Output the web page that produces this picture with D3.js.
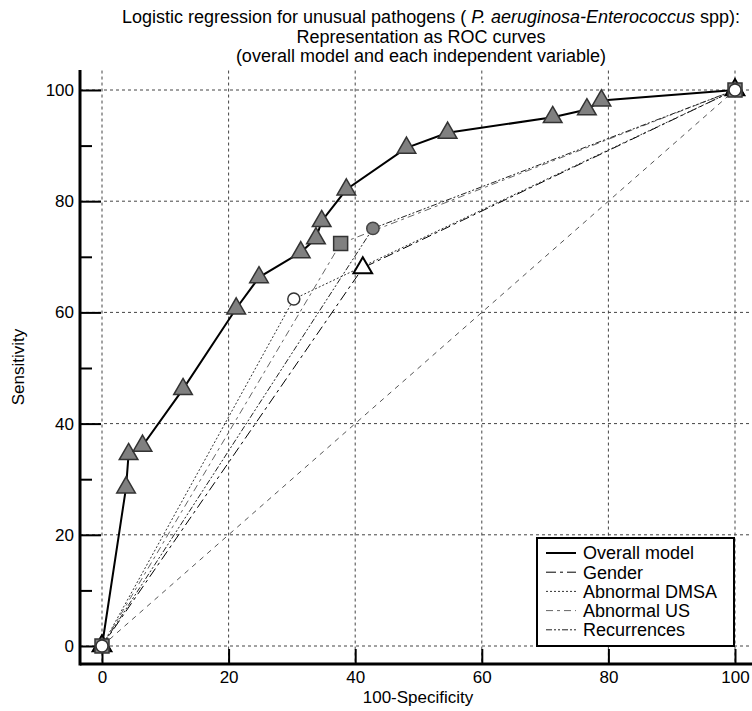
<!DOCTYPE html>
<html>
<head>
<meta charset="utf-8">
<script src="https://cdn.jsdelivr.net/npm/d3@7"></script>
<style>
  body { margin: 0; background: #fff; }
  svg { display: block; font-family: "Liberation Sans", Arial, sans-serif; }
</style>
</head>
<body>
<div id="chart"></div>
<script>
// overall model ROC points (100-specificity, sensitivity)
const overallX = [0, 3.8, 4.2, 6.4, 12.8, 21.2, 24.8, 31.4, 33.8, 34.7, 38.6, 48.1, 54.6, 71.2, 76.6, 78.9, 100];
const overallY = [0, 28.5, 34.5, 36.0, 46.2, 60.7, 66.3, 70.8, 73.3, 76.4, 82.1, 89.6, 92.3, 95.1, 96.5, 98.1, 100];

// each independent variable: one cut point
const variables = ["Gender", "Abnormal DMSA", "Abnormal US", "Recurrences"];
const varX = [41.2, 30.3, 37.7, 42.8];
const varY = [68.0, 62.4, 72.4, 75.1];

const legendLabels = ["Overall model", "Gender", "Abnormal DMSA", "Abnormal US", "Recurrences"];
const gridTicks = [0, 20, 40, 60, 80, 100];
const minorTicks = [10, 30, 50, 70, 90];

const titleLines = [
    null, // first line has italic part, built below
    "Representation as ROC curves",
    "(overall model and each independent variable)"
];

let width = 752, height = 711;
let svg = d3.select('#chart').append('svg')
    .attr('width', width)
    .attr('height', height);

let x = d3.scaleLinear().domain([0, 100]).range([102, 735]);
let y = d3.scaleLinear().domain([0, 100]).range([646, 90]);

let axisX0 = 80, axisY0 = 664;

// title
let title = svg.append('g').attr('text-anchor', 'middle').style('font-size', '18px');
let t1 = title.append('text').attr('x', 431).attr('y', 23);
t1.append('tspan').text('Logistic regression for unusual pathogens ( ');
t1.append('tspan').style('font-style', 'italic').text('P. aeruginosa-Enterococcus');
t1.append('tspan').text(' spp):');
title.append('text').attr('x', 421).attr('y', 43).text(titleLines[1]);
title.append('text').attr('x', 421).attr('y', 62).text(titleLines[2]);

// grid
let grid = svg.append('g')
    .attr('stroke', '#444')
    .attr('stroke-width', 1)
    .attr('stroke-dasharray', '3,3');
grid.selectAll('.vg').data(gridTicks).enter().append('line')
    .attr('x1', d => x(d)).attr('x2', d => x(d))
    .attr('y1', y(103.5)).attr('y2', axisY0);
grid.selectAll('.hg').data(gridTicks).enter().append('line')
    .attr('y1', d => y(d)).attr('y2', d => y(d))
    .attr('x1', axisX0).attr('x2', width);

// axes
let xAxis = svg.append('g')
    .attr('transform', `translate(0,${axisY0})`)
    .call(d3.axisBottom(x).tickValues(gridTicks).tickSize(-15).tickPadding(7));
let yAxis = svg.append('g')
    .attr('transform', `translate(${axisX0},0)`)
    .call(d3.axisLeft(y).tickValues(gridTicks).tickSize(-21).tickPadding(6));
let yMinor = svg.append('g')
    .attr('transform', `translate(${axisX0},0)`)
    .call(d3.axisLeft(y).tickValues(minorTicks).tickSize(-12).tickFormat(''));

[xAxis, yAxis, yMinor].forEach(a => {
    a.select('.domain').remove();
    a.selectAll('.tick line').attr('stroke', '#000').attr('stroke-width', 2);
    a.selectAll('.tick text')
        .attr('fill', '#000')
        .style('font-size', '17px')
        .style('font-family', '"Liberation Sans", Arial, sans-serif');
});

svg.append('line')
    .attr('x1', axisX0).attr('x2', width)
    .attr('y1', axisY0).attr('y2', axisY0)
    .attr('stroke', '#000').attr('stroke-width', 3);
svg.append('line')
    .attr('x1', axisX0).attr('x2', axisX0)
    .attr('y1', 70).attr('y2', axisY0 + 1.5)
    .attr('stroke', '#000').attr('stroke-width', 3);

// axis titles
svg.append('text')
    .attr('x', 418).attr('y', 703)
    .attr('text-anchor', 'middle')
    .style('font-size', '17px')
    .text('100-Specificity');
svg.append('text')
    .attr('transform', 'translate(24,367) rotate(-90)')
    .attr('text-anchor', 'middle')
    .style('font-size', '17px')
    .text('Sensitivity');

// line styles per variable
const varStroke = ['#000', '#333', '#666', '#222'];
const varDash = ['10,4,3,4', '2,2', '7,4,3,4', '6,2,2,2,2,2'];

let line = d3.line().x(d => x(d[0])).y(d => y(d[1]));

// reference diagonal
svg.append('path')
    .datum([[0, 0], [100, 100]])
    .attr('d', line)
    .attr('fill', 'none')
    .attr('stroke', '#555')
    .attr('stroke-dasharray', '5,5');

// variable curves
variables.forEach((v, i) => {
    svg.append('path')
        .datum([[0, 0], [varX[i], varY[i]], [100, 100]])
        .attr('d', line)
        .attr('fill', 'none')
        .attr('stroke', varStroke[i])
        .attr('stroke-width', 1)
        .attr('stroke-dasharray', varDash[i]);
});

// overall model curve
let overall = overallX.map((d, i) => [d, overallY[i]]);
svg.append('path')
    .datum(overall)
    .attr('d', line)
    .attr('fill', 'none')
    .attr('stroke', '#000')
    .attr('stroke-width', 2);

// markers
const markerDefs = [
    { type: d3.symbolTriangle, size: 150, fill: '#808080', stroke: '#333', sw: 1.5 }, // overall
    { type: d3.symbolTriangle, size: 150, fill: '#fff', stroke: '#000', sw: 2 },      // gender
    { type: d3.symbolCircle, size: 113, fill: '#fff', stroke: '#333', sw: 1.5 },      // DMSA
    { type: d3.symbolSquare, size: 196, fill: '#808080', stroke: '#333', sw: 1.5 },   // US
    { type: d3.symbolCircle, size: 120, fill: '#808080', stroke: '#444', sw: 1.5 }    // recurrences
];

function drawMarkers(pts, m) {
    svg.append('g').selectAll('path')
        .data(pts)
        .enter().append('path')
        .attr('transform', d => `translate(${x(d[0])},${y(d[1])})`)
        .attr('d', d3.symbol().type(m.type).size(m.size))
        .attr('fill', m.fill)
        .attr('stroke', m.stroke)
        .attr('stroke-width', m.sw);
}

drawMarkers(overall, markerDefs[0]);
// draw order so the white circle ends on top at the shared end points
[0, 3, 2, 1].forEach(i => {
    drawMarkers([[0, 0], [varX[i], varY[i]], [100, 100]], markerDefs[i + 1]);
});

// legend
let legend = svg.append('g').attr('transform', 'translate(537,538)');
legend.append('rect')
    .attr('width', 197).attr('height', 108)
    .attr('fill', '#fff')
    .attr('stroke', '#000').attr('stroke-width', 2);

const legStroke = ['#000'].concat(varStroke);
const legDash = [null].concat(varDash);
let item = legend.selectAll('.item')
    .data(legendLabels)
    .enter().append('g')
    .attr('transform', (d, i) => `translate(0,${15 + i * 19.2})`);
item.append('line')
    .attr('x1', 9).attr('x2', 39)
    .attr('stroke', (d, i) => legStroke[i])
    .attr('stroke-width', (d, i) => i === 0 ? 2 : 1)
    .attr('stroke-dasharray', (d, i) => legDash[i]);
item.append('text')
    .attr('x', 46).attr('dy', '0.35em')
    .style('font-size', '18px')
    .text(d => d);
</script>
</body>
</html>
